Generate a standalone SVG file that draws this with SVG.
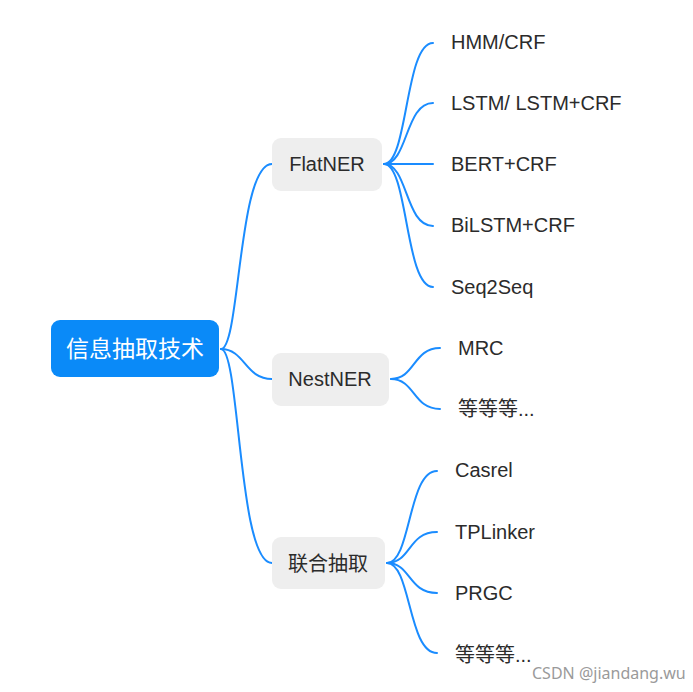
<svg xmlns="http://www.w3.org/2000/svg" width="693" height="692" viewBox="0 0 693 692">
<style>
.c{fill:none;stroke:#1a8cff;stroke-width:2;stroke-linecap:round}
.n{fill:#eeeeee}
.t{font-family:"Liberation Sans","Noto Sans CJK SC",Arial,sans-serif;font-size:20px;fill:#2b2b2b}
.r{font-family:"Noto Sans CJK SC","Liberation Sans",sans-serif;font-size:23px;fill:#ffffff}
.w{font-family:"Noto Sans","Noto Sans CJK SC",sans-serif;font-size:16px;fill:#9a9a9a}
</style>
<rect width="693" height="692" fill="#ffffff"/>
<g id="connectors">
<path class="c" d="M221,349 C240,349 238,164 272,164"/>
<path class="c" d="M221,349 C245,349 245,379 272,379"/>
<path class="c" d="M221,349 C240,349 238,563 272,563"/>
<path class="c" d="M384,164 C408,164 405,43 433,43"/>
<path class="c" d="M384,164 C408,164 405,103 433,103"/>
<path class="c" d="M384,164 L433,164"/>
<path class="c" d="M384,164 C408,164 405,226 433,226"/>
<path class="c" d="M384,164 C408,164 405,287 433,287"/>
<path class="c" d="M391,379 C415,379 413,348 440,348"/>
<path class="c" d="M391,379 C415,379 413,409 440,409"/>
<path class="c" d="M387,563 C411,563 408,471 437,471"/>
<path class="c" d="M387,563 C411,563 408,532 437,532"/>
<path class="c" d="M387,563 C411,563 408,593 437,593"/>
<path class="c" d="M387,563 C411,563 408,653 437,653"/>
</g>
<g id="root">
<rect x="51" y="320" width="168" height="57" rx="9" fill="#0a8af8"/>
<text class="r" x="135" y="357" text-anchor="middle">信息抽取技术</text>
</g>
<g id="flatner">
<rect class="n" x="272" y="138" width="110" height="53" rx="9"/>
<text class="t" x="327" y="171" text-anchor="middle">FlatNER</text>
</g>
<g id="nestner">
<rect class="n" x="272" y="353" width="117" height="53" rx="9"/>
<text class="t" x="330" y="386" text-anchor="middle">NestNER</text>
</g>
<g id="joint">
<rect class="n" x="272" y="537" width="113" height="52" rx="9"/>
<text class="t" x="328" y="571" text-anchor="middle">联合抽取</text>
</g>
<g id="hmm"><text class="t" x="451" y="49">HMM/CRF</text></g>
<g id="lstm"><text class="t" x="451" y="110">LSTM/ LSTM+CRF</text></g>
<g id="bert"><text class="t" x="451" y="171">BERT+CRF</text></g>
<g id="bilstm"><text class="t" x="451" y="232">BiLSTM+CRF</text></g>
<g id="seq2seq"><text class="t" x="451" y="294">Seq2Seq</text></g>
<g id="mrc"><text class="t" x="458" y="355">MRC</text></g>
<g id="nest-etc"><text class="t" x="458" y="416">等等等...</text></g>
<g id="casrel"><text class="t" x="455" y="477">Casrel</text></g>
<g id="tplinker"><text class="t" x="455" y="539">TPLinker</text></g>
<g id="prgc"><text class="t" x="455" y="600">PRGC</text></g>
<g id="joint-etc"><text class="t" x="455" y="662">等等等...</text></g>
<text class="w" x="532" y="679">CSDN @jiandang.wu</text>
</svg>
